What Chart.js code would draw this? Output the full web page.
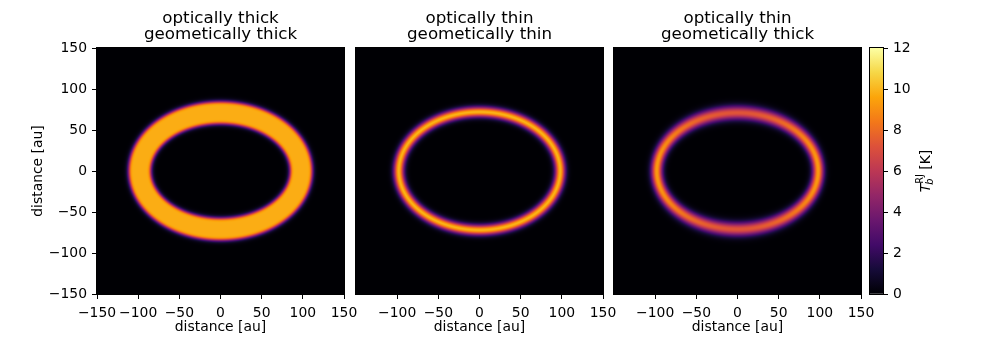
<!DOCTYPE html>
<html>
<head>
<meta charset="utf-8">
<script src="https://cdn.jsdelivr.net/npm/chart.js@4.4.0/dist/chart.umd.min.js"></script>
<style>
  html, body { margin: 0; padding: 0; background: #fff; }
  #wrap { position: relative; width: 981px; height: 343px; }
  #wrap canvas { position: absolute; left: 0; top: 0; }
</style>
</head>
<body>
<div id="wrap">
  <canvas id="panel-0" width="981" height="343"></canvas>
  <canvas id="panel-1" width="981" height="343"></canvas>
  <canvas id="panel-2" width="981" height="343"></canvas>
  <canvas id="cbar" width="981" height="343"></canvas>
</div>
<script>
// ── data ───────────────────────────────────────────────────
const panelTitles = [
  ["optically thick", "geometically thick"],
  ["optically thin", "geometically thin"],
  ["optically thin", "geometically thick"]
];
const axisTicks  = [-150, -100, -50, 0, 50, 100, 150];   // au, first panel
const innerTicks = [-100, -50, 0, 50, 100, 150];         // au, panels 2 and 3 (x)
const cbarTicks  = [0, 2, 4, 6, 8, 10, 12];              // K

// ring parameters per panel (au / K)
const ringA     = [98, 98, 98];       // semi-axis along x
const ringB     = [71, 72, 71];       // semi-axis along y
const peakSide  = [9.8, 9.9, 9.3];    // peak T_b at the ring ansae
const peakTop   = [9.8, 9.9, 7.3];    // peak T_b at top / bottom
const sigmaSide = [5.2, 4.4, 4.8];    // radial width at the ansae
const sigmaTop  = [5.2, 4.4, 5.8];    // radial width at top / bottom
const tau0      = [20, 0.01, 0.01];   // optical depth at ring centre

// panel placement (pixel edges of each plot box)
const panelLeft  = [97, 356, 614];
const panelRight = [344, 603, 861];
const boxTop = 48, boxBottom = 294;
const cbarLeft = 870, cbarRight = 883;

// ── colormap (inferno) ─────────────────────────────────────
const INFERNO = ["#000004","#160b39","#420a68","#6a176e","#932667","#bc3754",
                 "#dd513a","#f37819","#fca50a","#f6d746","#fcffa4"];
const INF_RGB = INFERNO.map(h => [1, 3, 5].map(i => parseInt(h.substr(i, 2), 16)));
function inferno(t) {
  t = Math.max(0, Math.min(1, t)) * (INF_RGB.length - 1);
  const i = Math.min(Math.floor(t), INF_RGB.length - 2), f = t - i;
  const a = INF_RGB[i], b = INF_RGB[i + 1];
  return [a[0] + (b[0] - a[0]) * f, a[1] + (b[1] - a[1]) * f, a[2] + (b[2] - a[2]) * f];
}

function brightness(k, x, y) {
  const a = ringA[k], b = ringB[k];
  const u = x / a, v = y / b;
  const r = Math.hypot(u, v);
  if (r < 1e-6) return 0;
  const d = (r - 1) / Math.hypot(u / (a * r), v / (b * r));   // ~distance to ring ridge
  const c2 = (u * u) / (r * r);
  const pk = peakTop[k] + (peakSide[k] - peakTop[k]) * c2;
  const sg = sigmaTop[k] + (sigmaSide[k] - sigmaTop[k]) * c2;
  const tau = tau0[k] * Math.exp(-d * d / (2 * sg * sg));
  return pk * (1 - Math.exp(-tau)) / (1 - Math.exp(-tau0[k]));
}

const fmtTick = v => v < 0 ? "\u2212" + Math.abs(v) : String(v);
const FONT = "'DejaVu Sans', sans-serif";

Chart.defaults.font.family = FONT;
Chart.defaults.font.size = 13.9;
Chart.defaults.color = "#000";
Chart.defaults.animation = false;

// ── plugins ────────────────────────────────────────────────
const ringImage = {
  id: "ringImage",
  beforeDatasetsDraw(chart, args, opts) {
    const k = opts.panel;
    const { left, top, right, bottom } = chart.chartArea;
    const w = Math.round(right - left), h = Math.round(bottom - top);
    const off = document.createElement("canvas");
    off.width = w; off.height = h;
    const octx = off.getContext("2d");
    const img = octx.createImageData(w, h);
    const xs = chart.scales.x, ys = chart.scales.y;
    const tMax = cbarTicks[cbarTicks.length - 1];
    for (let j = 0; j < h; j++) {
      const y = ys.getValueForPixel(top + j + 0.5);
      for (let i = 0; i < w; i++) {
        const x = xs.getValueForPixel(left + i + 0.5);
        const c = inferno(brightness(k, x, y) / tMax);
        const p = (j * w + i) * 4;
        img.data[p] = c[0]; img.data[p + 1] = c[1]; img.data[p + 2] = c[2]; img.data[p + 3] = 255;
      }
    }
    octx.putImageData(img, 0, 0);
    chart.ctx.drawImage(off, left, top, w, h);
  }
};

const frame = {
  id: "frame",
  afterDraw(chart) {
    const { left, top, right, bottom } = chart.chartArea;
    const ctx = chart.ctx;
    ctx.save();
    ctx.strokeStyle = "#000";
    ctx.lineWidth = 1;
    ctx.strokeRect(left - 0.5, top - 0.5, right - left + 1, bottom - top + 1);
    ctx.restore();
  }
};

const panelTitle = {
  id: "panelTitle",
  afterDraw(chart, args, opts) {
    const { left, right } = chart.chartArea;
    const ctx = chart.ctx;
    ctx.save();
    ctx.font = "16.7px " + FONT;
    ctx.fillStyle = "#000";
    ctx.textAlign = "center";
    ctx.textBaseline = "alphabetic";
    ctx.fillText(opts.lines[0], (left + right) / 2, 22.7);
    ctx.fillText(opts.lines[1], (left + right) / 2, 39.3);
    ctx.restore();
  }
};

const cbarLabel = {
  id: "cbarLabel",
  afterDraw(chart) {
    const ctx = chart.ctx;
    const parts = [
      { t: "T",    f: "italic 13.9px " + FONT, dy: 0 },
      { t: "b",    f: "italic 9.7px " + FONT, dy: 3 },
      { t: "RJ",   f: "9.7px " + FONT, dy: -7 },
      { t: " [K]", f: "13.9px " + FONT, dy: 0 }
    ];
    ctx.save();
    parts.forEach(p => { ctx.font = p.f; p.w = ctx.measureText(p.t).width; });
    const total = parts[0].w + Math.max(parts[1].w, parts[2].w) + parts[3].w;
    ctx.translate(930, (boxTop + boxBottom) / 2);
    ctx.rotate(-Math.PI / 2);
    ctx.fillStyle = "#000";
    ctx.textBaseline = "alphabetic";
    let x = -total / 2;
    ctx.font = parts[0].f; ctx.fillText(parts[0].t, x, 0); x += parts[0].w;
    ctx.font = parts[1].f; ctx.fillText(parts[1].t, x - 1, parts[1].dy);
    ctx.font = parts[2].f; ctx.fillText(parts[2].t, x, parts[2].dy);
    x += Math.max(parts[1].w, parts[2].w);
    ctx.font = parts[3].f; ctx.fillText(parts[3].t, x, 0);
    ctx.restore();
  }
};

// ── panels ─────────────────────────────────────────────────
function makePanel(k) {
  const showY = k === 0;
  const xTicks = k === 0 ? axisTicks : innerTicks;
  new Chart(document.getElementById("panel-" + k), {
    type: "scatter",
    data: { datasets: [{ data: [] }] },
    options: {
      responsive: false,
      events: [],
      layout: {
        padding: {
          left: showY ? 0 : panelLeft[k],
          right: 981 - panelRight[k],
          top: boxTop,
          bottom: 0
        }
      },
      plugins: {
        legend: { display: false },
        tooltip: { enabled: false },
        ringImage: { panel: k },
        panelTitle: { lines: panelTitles[k] }
      },
      scales: {
        x: {
          type: "linear",
          min: axisTicks[0],
          max: axisTicks[axisTicks.length - 1],
          afterBuildTicks: s => { s.ticks = xTicks.map(v => ({ value: v })); },
          afterFit: s => { s.height = 343 - boxBottom; },
          grid: { drawOnChartArea: false, drawTicks: true, tickLength: 5, color: "#000" },
          border: { display: false },
          ticks: { callback: fmtTick, padding: 6, maxRotation: 0, autoSkip: false },
          title: { display: true, text: "distance [au]", padding: { top: 0, bottom: 7 } }
        },
        y: {
          type: "linear",
          display: showY,
          min: axisTicks[0],
          max: axisTicks[axisTicks.length - 1],
          afterBuildTicks: s => { s.ticks = axisTicks.map(v => ({ value: v })); },
          afterFit: s => { if (showY) s.width = panelLeft[0]; },
          grid: { drawOnChartArea: false, drawTicks: true, tickLength: 5, color: "#000" },
          border: { display: false },
          ticks: { callback: fmtTick, padding: 5, autoSkip: false },
          title: { display: true, text: "distance [au]", padding: { top: 30, bottom: 0 } }
        }
      }
    },
    plugins: [ringImage, frame, panelTitle]
  });
}
[0, 1, 2].forEach(makePanel);

// ── colorbar ───────────────────────────────────────────────
new Chart(document.getElementById("cbar"), {
  type: "bar",
  data: {
    labels: ["T_b"],
    datasets: [{
      data: [[cbarTicks[0], cbarTicks[cbarTicks.length - 1]]],
      barPercentage: 1,
      categoryPercentage: 1,
      borderWidth: 0,
      backgroundColor: ctx => {
        const area = ctx.chart.chartArea;
        const ys = ctx.chart.scales.y;
        if (!area || !ys) return INFERNO[5];
        const y0 = ys.getPixelForValue(cbarTicks[0]);
        const y1 = ys.getPixelForValue(cbarTicks[cbarTicks.length - 1]);
        if (!isFinite(y0) || !isFinite(y1) || y0 === y1) return INFERNO[5];
        const g = ctx.chart.ctx.createLinearGradient(0, y0, 0, y1);
        INFERNO.forEach((c, i) => g.addColorStop(i / (INFERNO.length - 1), c));
        return g;
      }
    }]
  },
  options: {
    responsive: false,
    events: [],
    layout: { padding: { left: cbarLeft, right: 981 - cbarRight - 40, top: boxTop, bottom: 343 - boxBottom } },
    plugins: { legend: { display: false }, tooltip: { enabled: false } },
    scales: {
      x: { display: false, offset: true },
      y: {
        position: "right",
        min: cbarTicks[0],
        max: cbarTicks[cbarTicks.length - 1],
        afterBuildTicks: s => { s.ticks = cbarTicks.map(v => ({ value: v })); },
        afterFit: s => { s.width = 40; },
        grid: { drawOnChartArea: false, drawTicks: true, tickLength: 5, color: "#000" },
        border: { display: false },
        ticks: { padding: 5 }
      }
    }
  },
  plugins: [frame, cbarLabel]
});
</script>
</body>
</html>
